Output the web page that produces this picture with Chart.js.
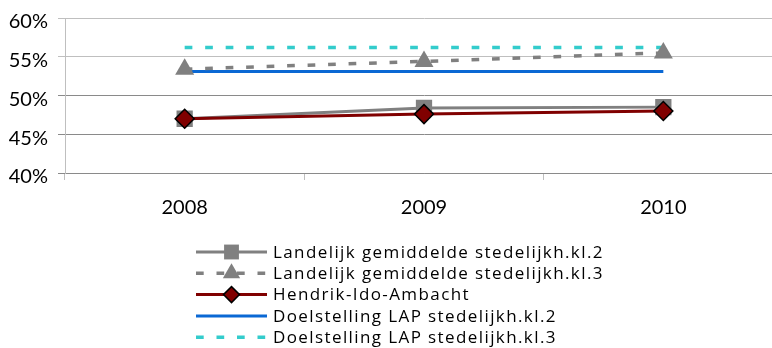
<!DOCTYPE html>
<html><head><meta charset="utf-8">
<script src="https://cdn.jsdelivr.net/npm/chart.js@4/dist/chart.umd.min.js"></script>
<style>
html,body{margin:0;padding:0;background:#fff;overflow:hidden;width:772px;height:348px}
#wrap{width:783px;height:348px;position:absolute;left:0;top:0}
canvas{display:block}
</style></head>
<body><div id="wrap"><canvas id="c" width="783" height="348" style="width:783px;height:348px"></canvas></div>
<script>
const categories = ['2008', '2009', '2010'];
const seriesNames = [
  'Landelijk gemiddelde stedelijkh.kl.2',
  'Landelijk gemiddelde stedelijkh.kl.3',
  'Hendrik-Ido-Ambacht',
  'Doelstelling LAP stedelijkh.kl.2',
  'Doelstelling LAP stedelijkh.kl.3'
];
const landelijkKl2 = [47.0, 48.4, 48.5];
const landelijkKl3 = [53.4, 54.4, 55.5];
const hendrikIdoAmbacht = [47.0, 47.6, 48.0];
const doelLapKl2 = [53.1, 53.1, 53.1];
const doelLapKl3 = [56.2, 56.2, 56.2];
const yTicks = [40, 45, 50, 55, 60];

const TICK_FONT = 'Lato';
const LEGEND_FONT = '"Open Sans"';

function drawMarker(ctx, style, x, y, r, fill, stroke, bw) {
  ctx.save();
  ctx.setLineDash([]);
  ctx.beginPath();
  if (style === 'rect') {
    const s = Math.SQRT1_2 * r;
    ctx.rect(x - s, y - s, 2 * s, 2 * s);
  } else if (style === 'triangle') {
    ctx.moveTo(x, y - r);
    ctx.lineTo(x + Math.sin(2 * Math.PI / 3) * r, y + 0.5 * r);
    ctx.lineTo(x - Math.sin(2 * Math.PI / 3) * r, y + 0.5 * r);
    ctx.closePath();
  } else if (style === 'rectRot') {
    ctx.moveTo(x, y - r);
    ctx.lineTo(x + r, y);
    ctx.lineTo(x, y + r);
    ctx.lineTo(x - r, y);
    ctx.closePath();
  }
  ctx.fillStyle = fill;
  ctx.fill();
  if (bw > 0) { ctx.lineWidth = bw; ctx.strokeStyle = stroke; ctx.stroke(); }
  ctx.restore();
}

const legendPlugin = {
  id: 'customLegend',
  afterDraw(chart) {
    const ctx = chart.ctx;
    const x1 = 196, x2 = 267, tx = 273, y0 = 252, dy = 21.3;
    chart.data.datasets.forEach((ds, i) => {
      const y = y0 + i * dy;
      ctx.save();
      ctx.strokeStyle = ds.borderColor;
      ctx.lineWidth = ds.borderWidth;
      ctx.lineCap = 'butt';
      ctx.setLineDash(ds.borderDash || []);
      ctx.beginPath(); ctx.moveTo(x1, y); ctx.lineTo(x2, y); ctx.stroke();
      if (ds.pointRadius > 0) {
        drawMarker(ctx, ds.pointStyle, (x1 + x2) / 2, y, ds.legendRadius,
          ds.pointBackgroundColor, ds.pointBorderColor, ds.pointBorderWidth);
      }
      ctx.fillStyle = '#000';
      ctx.font = '17px ' + LEGEND_FONT;
      if ('letterSpacing' in ctx) ctx.letterSpacing = '1.4px';
      ctx.textBaseline = 'middle';
      ctx.textAlign = 'left';
      ctx.fillText(ds.label, tx, y + 1);
      if ('letterSpacing' in ctx) ctx.letterSpacing = '0px';
      ctx.restore();
    });
  }
};

function build() {
  new Chart(document.getElementById('c'), {
    type: 'line',
    data: {
      labels: categories,
      datasets: [
        { label: seriesNames[0], data: landelijkKl2, order: 2,
          borderColor: '#808080', borderWidth: 3,
          pointStyle: 'rect', pointRadius: 11.5, legendRadius: 10.5,
          pointBackgroundColor: '#808080', pointBorderColor: '#808080', pointBorderWidth: 0 },
        { label: seriesNames[1], data: landelijkKl3, order: 1,
          borderColor: '#808080', borderWidth: 3.5, borderDash: [7.7, 12.8],
          pointStyle: 'triangle', pointRadius: 11, legendRadius: 10,
          pointBackgroundColor: '#808080', pointBorderColor: '#808080', pointBorderWidth: 0 },
        { label: seriesNames[2], data: hendrikIdoAmbacht, order: 0,
          borderColor: '#800000', borderWidth: 3,
          pointStyle: 'rectRot', pointRadius: 9.5, legendRadius: 8,
          pointBackgroundColor: '#800000', pointBorderColor: '#000000', pointBorderWidth: 1.5 },
        { label: seriesNames[3], data: doelLapKl2, order: 3,
          borderColor: '#0a68d4', borderWidth: 3, pointRadius: 0 },
        { label: seriesNames[4], data: doelLapKl3, order: 4,
          borderColor: '#33cccc', borderWidth: 3.5, borderDash: [7.7, 12.8], pointRadius: 0 }
      ]
    },
    options: {
      responsive: false,
      animation: false,
      devicePixelRatio: 1,
      layout: { autoPadding: false, padding: { top: 18, left: 0, right: 0, bottom: 125 } },
      plugins: { legend: { display: false }, tooltip: { enabled: false } },
      elements: { line: { tension: 0, borderCapStyle: 'butt' } },
      scales: {
        x: {
          type: 'category',
          offset: true,
          grid: { offset: true, drawOnChartArea: false, drawTicks: true, tickLength: 7, color: '#bfbfbf' },
          border: { display: true, color: '#8a8a8a', width: 1 },
          ticks: { color: '#000', font: { family: TICK_FONT, size: 20 }, padding: 16, maxRotation: 0 },
          afterFit(s) { s.height = 50; s.paddingLeft = 0; s.paddingRight = 0; }
        },
        y: {
          min: yTicks[0], max: yTicks[yTicks.length - 1],
          afterBuildTicks(s) { s.ticks = yTicks.map(v => ({ value: v })); },
          grid: {
            tickLength: 7,
            color: c => (c.tick && c.tick.value >= 55) ? '#bfbfbf' : '#8a8a8a'
          },
          border: { display: true, color: '#bfbfbf', width: 1 },
          ticks: { color: '#000', font: { family: TICK_FONT, size: 20 }, padding: 10, labelOffset: 4,
            callback: v => v + '%' },
          afterFit(s) { s.width = 65; s.paddingTop = 0; s.paddingBottom = 0; }
        }
      }
    },
    plugins: [legendPlugin]
  });
}
if (document.fonts && document.fonts.load) {
  Promise.all([document.fonts.load('20px Lato'), document.fonts.load('17px "Open Sans"')]).then(build, build);
} else build();
</script>
</body></html>
